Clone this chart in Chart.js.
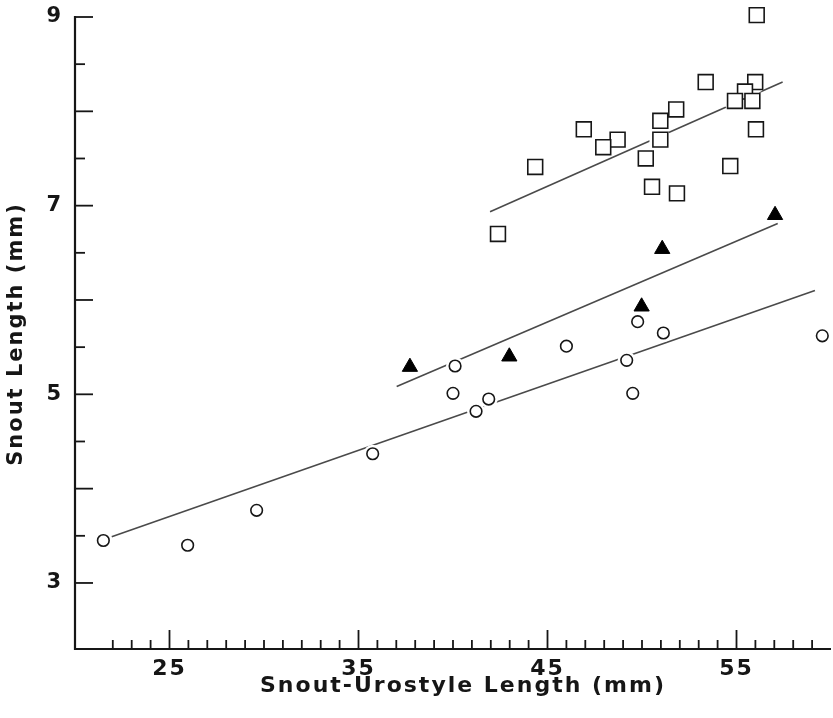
<!DOCTYPE html>
<html><head><meta charset="utf-8">
<script src="https://cdn.jsdelivr.net/npm/chart.js@4/dist/chart.umd.min.js"></script>
<style>html,body{margin:0;padding:0;background:#fff;}#wrap{width:833px;height:718px;}</style>
</head><body><div id="wrap"><canvas id="c" width="833" height="718"></canvas></div>
<script>
// ---- text ----
const xTitle = 'Snout-Urostyle Length (mm)';
const yTitle = 'Snout Length (mm)';
const xLabeled = [25, 35, 45, 55];
const yLabeled = [3, 5, 7, 9];

// ---- open squares ----
const squareX = [56.07, 53.37, 55.99, 55.45, 54.92, 55.84, 51.81, 50.97, 46.92, 48.71, 47.95, 50.97, 56.03, 50.20, 44.35, 54.67, 50.53, 51.85, 42.38];
const squareY = [9.02, 8.31, 8.31, 8.21, 8.11, 8.11, 8.02, 7.90, 7.81, 7.70, 7.62, 7.70, 7.81, 7.50, 7.41, 7.42, 7.20, 7.13, 6.70];

// ---- filled triangles ----
const triX = [37.72, 42.98, 49.98, 51.07, 57.04];
const triY = [5.29, 5.40, 5.93, 6.54, 6.90];

// ---- open circles ----
const circX = [21.50, 25.96, 29.61, 35.75, 40.00, 40.11, 41.22, 41.89, 46.00, 49.19, 49.51, 49.77, 51.13, 59.54];
const circY = [3.45, 3.40, 3.77, 4.37, 5.01, 5.30, 4.82, 4.95, 5.51, 5.36, 5.01, 5.77, 5.65, 5.62];

// ---- regression lines (end points) ----
const squareLineX = [41.96, 57.44];
const squareLineY = [6.936, 8.31];
const triLineX = [37.02, 57.18];
const triLineY = [5.084, 6.81];
const circLineX = [21.94, 59.15];
const circLineY = [3.49, 6.10];

const xMin = 20, xMax = 60, yMin = 2.3, yMax = 9;

const INK = '#161616';
const LINE = '#4a4a4a';
const FONT = '"DejaVu Sans", "Liberation Sans", Arial, sans-serif';
const SPACING = '2px';

const pts = (xs, ys) => xs.map((x, i) => ({x, y: ys[i]}));

const bg = {
  id: 'bg',
  beforeDraw(chart) {
    const ctx = chart.ctx;
    ctx.save(); ctx.fillStyle = '#ffffff';
    ctx.fillRect(0, 0, chart.width, chart.height); ctx.restore();
    ctx.letterSpacing = SPACING;
  }
};

const halo = {
  id: 'halo',
  beforeDatasetDraw(chart, args) {
    const ds = chart.data.datasets[args.index];
    if (!ds.haloR) return;
    const ctx = chart.ctx;
    ctx.save(); ctx.fillStyle = '#ffffff';
    args.meta.data.forEach(el => {
      ctx.beginPath(); ctx.arc(el.x, el.y, ds.haloR, 0, Math.PI * 2); ctx.fill();
    });
    ctx.restore();
  }
};

const axes = {
  id: 'axes',
  afterDraw(chart) {
    const {ctx, chartArea: a, scales: {x, y}} = chart;
    ctx.save();
    ctx.strokeStyle = INK; ctx.lineCap = 'butt';
    ctx.lineWidth = 2.2;
    ctx.beginPath();
    ctx.moveTo(a.left, a.top - 1); ctx.lineTo(a.left, a.bottom);
    ctx.lineTo(a.right, a.bottom);
    ctx.stroke();
    ctx.lineWidth = 1.8;
    x.ticks.forEach(t => {
      const v = t.value;
      if (Math.abs(v - Math.round(v)) > 1e-6 || v <= xMin + 1 || v >= xMax) return;
      const px = x.getPixelForValue(v);
      const len = xLabeled.includes(Math.round(v)) ? 19 : 9;
      ctx.beginPath(); ctx.moveTo(px, a.bottom); ctx.lineTo(px, a.bottom - len); ctx.stroke();
    });
    y.ticks.forEach(t => {
      const v = t.value;
      if (v < 3 - 1e-6 || Math.abs(v * 2 - Math.round(v * 2)) > 1e-6) return;
      const py = y.getPixelForValue(v);
      const len = Math.abs(v - Math.round(v)) < 1e-6 ? 18 : 10;
      ctx.beginPath(); ctx.moveTo(a.left, py); ctx.lineTo(a.left + len, py); ctx.stroke();
    });
    ctx.fillStyle = INK;
    ctx.letterSpacing = SPACING;
    ctx.textAlign = 'center'; ctx.textBaseline = 'alphabetic';
    ctx.font = 'bold 22px ' + FONT;
    ctx.fillText(xTitle, 463, 692);
    ctx.translate(22, 334); ctx.rotate(-Math.PI / 2);
    ctx.font = 'bold 21px ' + FONT;
    ctx.fillText(yTitle, 0, 0);
    ctx.restore();
  }
};

new Chart(document.getElementById('c'), {
  type: 'scatter',
  data: {
    datasets: [
      {type: 'line', data: pts(squareLineX, squareLineY), borderColor: LINE, borderWidth: 1.6, pointRadius: 0, fill: false, order: 10},
      {type: 'line', data: pts(triLineX, triLineY), borderColor: LINE, borderWidth: 1.6, pointRadius: 0, fill: false, order: 10},
      {type: 'line', data: pts(circLineX, circLineY), borderColor: LINE, borderWidth: 1.6, pointRadius: 0, fill: false, order: 10},
      {data: pts(squareX, squareY), pointStyle: 'rect', pointRadius: 10.5, borderWidth: 1.6, borderColor: INK, backgroundColor: '#ffffff', haloR: 11, order: 1, clip: false},
      {data: pts(triX, triY), pointStyle: 'triangle', pointRadius: 8.8, borderWidth: 1, borderColor: '#000', backgroundColor: '#000', haloR: 0, order: 1, clip: false},
      {data: pts(circX, circY), pointStyle: 'circle', pointRadius: 5.8, borderWidth: 1.6, borderColor: INK, backgroundColor: '#ffffff', haloR: 9, order: 1, clip: false}
    ]
  },
  options: {
    responsive: false,
    animation: false,
    devicePixelRatio: 1,
    layout: {autoPadding: false, padding: {top: 17, right: 2, left: 0, bottom: 0}},
    plugins: {legend: {display: false}, tooltip: {enabled: false}},
    scales: {
      x: {
        type: 'linear', min: xMin, max: xMax,
        grid: {display: false, drawTicks: false}, border: {display: false},
        ticks: {
          stepSize: 1, autoSkip: false, maxRotation: 0, padding: 7,
          color: INK, font: {family: FONT, size: 22, weight: 'bold'},
          callback: v => xLabeled.includes(v) ? String(v) : ''
        },
        afterFit: s => { s.height = 69; s.paddingLeft = 0; s.paddingRight = 0; }
      },
      y: {
        type: 'linear', min: yMin, max: yMax,
        grid: {display: false, drawTicks: false}, border: {display: false},
        ticks: {
          stepSize: 0.5, autoSkip: false, padding: 12,
          color: INK, font: {family: FONT, size: 21, weight: 'bold'},
          callback: v => yLabeled.includes(v) ? String(v) : ''
        },
        afterFit: s => { s.width = 75; s.paddingTop = 0; s.paddingBottom = 0; }
      }
    }
  },
  plugins: [bg, halo, axes]
});
</script>
</body></html>
